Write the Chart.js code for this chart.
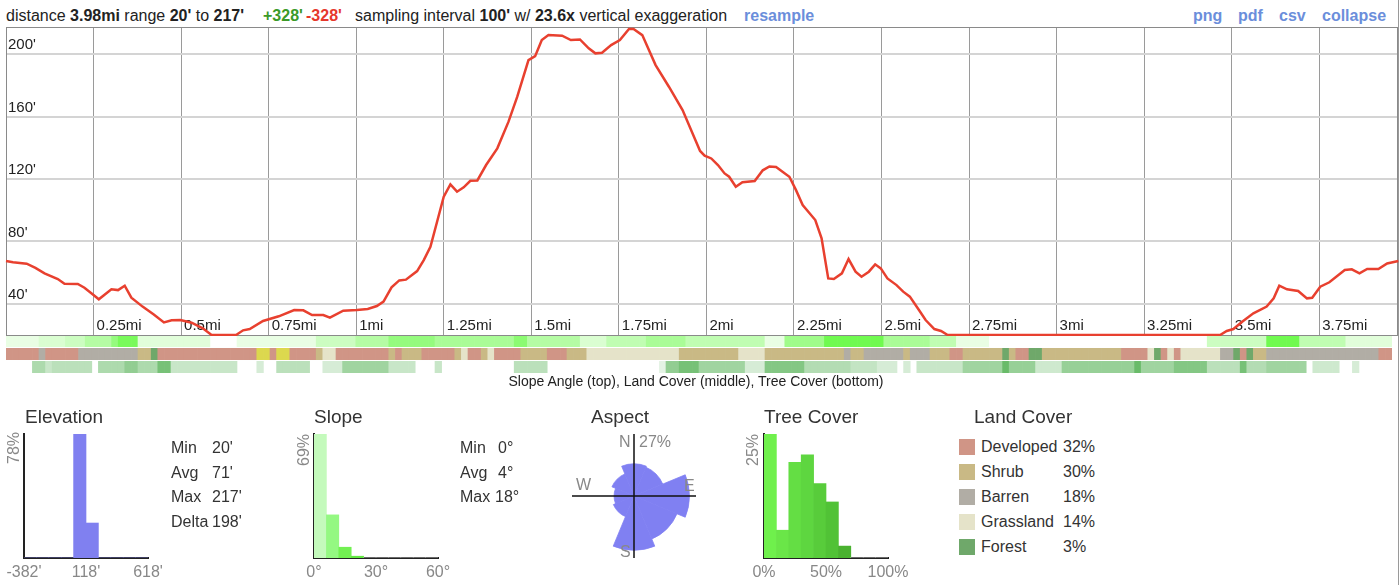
<!DOCTYPE html>
<html>
<head>
<meta charset="utf-8">
<script src="https://cdn.jsdelivr.net/npm/chart.js@4.4.1/dist/chart.umd.min.js"></script>
<style>
  body{margin:0;width:1400px;height:585px;overflow:hidden;background:#fff;position:relative;
       font-family:"Liberation Sans",Arial,Helvetica,sans-serif;color:#333}
  .abs{position:absolute;white-space:nowrap;line-height:18px}
  .hdr{font-size:16px;top:7px;color:#222}
  .link{color:#6b8edb;font-weight:bold}
  .title{font-size:19px;line-height:22px;color:#333}
  .stat{font-size:16px;color:#333}
  .axl{font-size:16px;color:#888;transform:translateX(-50%)}
  .rot{font-size:16px;color:#888;transform:translate(-50%,-50%) rotate(-90deg)}
  .sw{position:absolute;width:16px;height:16px}
  canvas{position:absolute}
</style>
</head>
<body>
<div id="root"></div>
<script>
// ---- elevation profile ----
const distMi = [0,0.020,0.059,0.084,0.110,0.148,0.167,0.205,0.224,0.250,0.265,0.301,0.320,0.339,0.358,0.390,0.422,0.451,0.473,0.498,
  0.530,0.562,0.587,0.657,0.677,0.696,0.734,0.779,0.823,0.849,0.874,0.906,0.925,0.963,1.002,1.033,1.059,1.078,1.101,1.123,
  1.142,1.174,1.193,1.212,1.231,1.250,1.269,1.288,1.307,1.326,1.346,1.371,1.403,1.435,1.460,1.492,1.511,1.530,1.549,1.588,
  1.613,1.639,1.664,1.683,1.702,1.728,1.753,1.779,1.792,1.817,1.855,1.893,1.932,1.982,1.995,2.014,2.033,2.052,2.065,2.084,
  2.103,2.138,2.161,2.180,2.199,2.237,2.256,2.275,2.311,2.329,2.348,2.364,2.387,2.406,2.426,2.443,2.464,2.482,2.498,2.517,
  2.543,2.562,2.581,2.607,2.626,2.651,2.670,2.689,3.467,3.486,3.505,3.530,3.562,3.600,3.620,3.636,3.658,3.690,3.715,3.730,
  3.753,3.779,3.823,3.843,3.865,3.887,3.919,3.944,3.976];
const elevFt = [67.4,66.6,65.7,63,59.5,55.9,52.9,52.7,50.3,45.6,42.9,49.3,48.8,51.6,43.9,38.2,33.2,28.1,29.4,29.6,
  27.9,24.3,20,20,23,23.8,29,32,36,35.8,32.8,32.8,31.1,35.6,36,36.7,38.6,41.4,50.6,55,
  55.5,61,68,76.6,92.6,108.7,116.6,111.9,114.7,118.9,119.1,129,139.7,156.8,172.8,196.3,198.8,209.1,212.3,211.9,
  209.1,209.5,203.8,200.6,201,205.9,209.1,216.2,216.2,212.3,193.1,179.2,164.2,138,135,133.2,129,123.6,121.5,115.1,
  117.9,118.7,125.6,128.1,127.7,121.5,112.9,103.3,93.7,82,56.3,55.9,59.5,68.7,60.6,57.4,60.6,65.3,62.7,56.3,
  52,47.8,44.6,36,29.6,23.8,22.6,20,20,22.6,23.8,28.5,33.9,38.2,43.5,51.6,49.3,48.2,43.5,43.9,
  51,53.8,61.7,62.1,59.5,62.3,62.3,65.9,67.4];
const xTicks = [0.25,0.5,0.75,1,1.25,1.5,1.75,2,2.25,2.5,2.75,3,3.25,3.5,3.75];
const xTickLabels = ['0.25mi','0.5mi','0.75mi','1mi','1.25mi','1.5mi','1.75mi','2mi','2.25mi','2.5mi','2.75mi','3mi','3.25mi','3.5mi','3.75mi'];
const yTicks = [40,80,120,160,200];
const yTickLabels = ["40'","80'","120'","160'","200'"];
const DIST_MAX = 3.975, ELEV_MIN = 20, ELEV_MAX = 217.5;

// ---- strips: runs of [cells, value], 210 samples of 100' ----
const slopeRuns = [[5,1],[4,2],[3,3],[4,5],[1,8],[3,11],[11,1.5],[4,0],[12,1],[6,3],[5,5],[7,8],[5,6],[7,6],[2,9],[8,5],
  [4,2],[6,4],[6,6],[12,4],[3,1],[6,7],[9,14],[7,6],[4,4],[5,1],[33,0],[9,3],[5,12],[7,4],[7,1.5]];
const landRuns = [[5,'D'],[1,'B'],[5,'D'],[9,'B'],[2,'S'],[1,'F'],[15,'D'],[2,'C'],[1,'D'],[2,'C'],[4,'D'],[1,'S'],[2,'G'],
  [8,'D'],[1,'S'],[1,'D'],[3,'S'],[5,'D'],[1,'S'],[1,'G'],[2,'D'],[1,'S'],[1,'G'],[4,'D'],[4,'S'],[3,'D'],[3,'S'],[14,'G'],
  [9,'S'],[4,'G'],[12,'S'],[1,'B'],[2,'S'],[6,'B'],[1,'S'],[3,'B'],[3,'S'],[2,'D'],[6,'S'],[1,'F'],[1,'S'],[2,'D'],[2,'F'],
  [12,'S'],[4,'D'],[1,'G'],[1,'F'],[1,'D'],[1,'G'],[1,'D'],[6,'G'],[2,'B'],[1,'F'],[1,'D'],[1,'F'],[2,'S'],[17,'B'],[2,'D']];
const treeRuns = [[4,0],[2,30],[1,20],[6,25],[1,0],[4,30],[2,40],[3,30],[2,50],[10,20],[3,0],[1,15],[2,0],[5,25],[2,0],
  [3,15],[7,35],[4,20],[3,0],[1,20],[4,0],[7,0],[5,25],[17,0],[1,10],[2,40],[3,50],[7,35],[3,15],[6,45],[7,28],[4,22],
  [3,15],[1,0],[1,15],[1,0],[7,20],[6,35],[1,55],[4,38],[4,18],[11,38],[1,55],[5,35],[5,45],[5,25],[1,50],[3,28],[6,35],
  [1,0],[4,18],[2,0],[1,15],[5,0]];
const landColors = {D:'#d09586',S:'#c9b985',B:'#b1ada5',G:'#e5e3c9',F:'#6fa86a',C:'#dcd84e'};

// ---- summary panels ----
const elevBins = [0,0,0,0,78,22,0,0,0,0];
const elevAxis = ["-382'","118'","618'"];
const elevStats = [['Min',"20'"],['Avg',"71'"],['Max',"217'"],['Delta',"198'"]];
const slopeBins = [69,24,6,1,0,0,0,0,0,0];
const slopeBinColors = ['#c4fabc','#94f882','#72f052','#62e842','#fff','#fff','#fff','#fff','#fff','#fff'];
const slopeAxis = ['0°','30°','60°'];
const slopeStats = [['Min','0°'],['Avg','4°'],['Max','18°']];
const aspectDirs = ['N','NE','E','SE','S','SW','W','NW'];
const aspectPct = [7.3,6.8,21.6,15.2,20.7,3.5,2.8,4.0];
const aspectMax = 27;
const treeBins = [25,5.6,19.3,20.8,15,11.3,2.4,0,0,0];
const treeBinColors = ['#6ff04c','#6ae648','#64de44','#5ed640','#58cc3b','#51c236','#4ab230','#fff','#fff','#fff'];
const treeAxis = ['0%','50%','100%'];
const landNames = ['Developed','Shrub','Barren','Grassland','Forest'];
const landKeys = ['D','S','B','G','F'];
const landPct = ['32%','30%','18%','14%','3%'];

function expand(runs){ const out=[]; runs.forEach(([n,v])=>{ for(let i=0;i<n;i++) out.push(v); }); return out; }
function mix(a,b,t){ t=Math.max(0,Math.min(1,t)); return 'rgb('+a.map((c,i)=>Math.round(c+(b[i]-c)*t)).join(',')+')'; }
function slopeColor(v){ return mix([255,255,255],[112,250,80],Math.pow(v/12,0.75)); }
function treeColor(v){ return v<=0 ? 'rgba(0,0,0,0)' : mix([255,255,255],[64,168,64],v/70); }

function el(html){ document.getElementById('root').insertAdjacentHTML('beforeend', html); }
function canvas(id,l,t,w,h){ el(`<canvas id="${id}" width="${w}" height="${h}" style="left:${l}px;top:${t}px;width:${w}px;height:${h}px"></canvas>`); return document.getElementById(id); }

// header
el(`<div class="abs hdr" style="left:6px">distance <b>3.98mi</b> range <b>20'</b> to <b>217'</b></div>
<div class="abs hdr" style="left:263px;color:#3b9a28;font-weight:bold">+328'</div>
<div class="abs hdr" style="left:306px;color:#e6372b;font-weight:bold">-328'</div>
<div class="abs hdr" style="left:355px">sampling interval <b>100'</b> w/ <b>23.6x</b> vertical exaggeration</div>
<div class="abs hdr link" style="left:744px">resample</div>
<div class="abs hdr link" style="left:1193px">png</div>
<div class="abs hdr link" style="left:1238px">pdf</div>
<div class="abs hdr link" style="left:1279px">csv</div>
<div class="abs hdr link" style="left:1322px">collapse</div>
<div style="position:absolute;left:1398px;top:0;width:1px;height:585px;background:#9a9a9a"></div>`);

const base = {responsive:false, animation:false, events:[], plugins:{legend:{display:false}, tooltip:{enabled:false}}};

// profile labels + frame, drawn under the line
const profileDeco = {
  id:'profileDeco',
  beforeDatasetsDraw(chart){
    const {ctx, chartArea:a, scales:{x,y}} = chart;
    ctx.save();
    ctx.strokeStyle='#8a8a8a'; ctx.lineWidth=1;
    ctx.strokeRect(a.left+0.5, a.top+0.5, a.right-a.left-1, a.bottom-a.top);
    ctx.fillStyle='#222'; ctx.font='15px "Liberation Sans", Arial, sans-serif'; ctx.textBaseline='middle'; ctx.textAlign='left';
    yTicks.forEach((v,i)=>ctx.fillText(yTickLabels[i], a.left+2, y.getPixelForValue(v)-9));
    xTicks.forEach((v,i)=>ctx.fillText(xTickLabels[i], x.getPixelForValue(v)+3, a.bottom-9));
    ctx.restore();
  }
};

new Chart(canvas('profile',0,20,1400,320), {
  type:'line',
  data:{datasets:[{data:distMi.map((d,i)=>({x:d,y:elevFt[i]})), borderColor:'#e8402f', borderWidth:2.5,
    pointRadius:0, tension:0, clip:4}]},
  options:{...base, layout:{padding:{left:6,right:2,top:7,bottom:5}},
    scales:{
      x:{type:'linear', min:0, max:DIST_MAX, afterBuildTicks:s=>{s.ticks=xTicks.map(v=>({value:v}));},
         ticks:{display:false}, grid:{color:'#9a9a9a', lineWidth:1, drawTicks:false}, border:{display:false}},
      y:{type:'linear', min:ELEV_MIN, max:ELEV_MAX, afterBuildTicks:s=>{s.ticks=yTicks.map(v=>({value:v}));},
         ticks:{display:false}, grid:{color:'#d4d4d4', lineWidth:2, drawTicks:false}, border:{display:false}}
    }},
  plugins:[profileDeco]
});

// strips
const slopeCells = expand(slopeRuns), landCells = expand(landRuns), treeCells = expand(treeRuns);
function strip(id, top, h, cells, colorFn){
  new Chart(canvas(id,6,top,1386,h), {
    type:'bar',
    data:{labels:cells.map((_,i)=>i), datasets:[{data:cells.map(()=>1), backgroundColor:cells.map(colorFn),
      borderWidth:0, categoryPercentage:1, barPercentage:1}]},
    options:{...base, layout:{padding:0}, scales:{x:{display:false}, y:{display:false, min:0, max:1}}}
  });
}
strip('slopeStrip',336,11,slopeCells,slopeColor);
strip('landStrip',348,12,landCells,k=>landColors[k]);
strip('treeStrip',361,12,treeCells,treeColor);
el(`<div class="abs" style="left:696px;top:372px;font-size:14px;color:#222;transform:translateX(-50%)">Slope Angle (top), Land Cover (middle), Tree Cover (bottom)</div>`);

// histograms
function hist(id, left, bins, colors){
  new Chart(canvas(id,left,424,144,144), {
    type:'bar',
    data:{labels:bins.map((_,i)=>i), datasets:[{data:bins, backgroundColor:colors, borderWidth:0, categoryPercentage:1, barPercentage:1}]},
    options:{...base, layout:{padding:10}, scales:{
      x:{ticks:{display:false}, grid:{display:false, drawTicks:false}, border:{color:'#222', width:2}},
      y:{min:0, max:Math.max(...bins), ticks:{display:false}, grid:{display:false, drawTicks:false}, border:{color:'#222', width:2}}
    }}
  });
}
function axisLabels(left, labels){
  labels.forEach((t,i)=>el(`<div class="abs axl" style="left:${left+i*62}px;top:563px">${t}</div>`));
}
hist('elevHist',14,elevBins,'#8080f0');
hist('slopeHist',304,slopeBins,slopeBinColors);
hist('treeHist',754,treeBins,treeBinColors);
axisLabels(24,elevAxis); axisLabels(314,slopeAxis); axisLabels(764,treeAxis);
el(`<div class="abs rot" style="left:14px;top:448px">${elevBins[4]}%</div>
<div class="abs rot" style="left:304px;top:450px">${slopeBins[0]}%</div>
<div class="abs rot" style="left:753px;top:450px">${treeBins[0]}%</div>`);

el(`<div class="abs title" style="left:25px;top:406px">Elevation</div>
<div class="abs title" style="left:314px;top:406px">Slope</div>
<div class="abs title" style="left:591px;top:406px">Aspect</div>
<div class="abs title" style="left:764px;top:406px">Tree Cover</div>
<div class="abs title" style="left:974px;top:406px">Land Cover</div>`);
elevStats.forEach(([k,v],i)=>el(`<div class="abs stat" style="left:171px;top:${439+i*24.7}px">${k}</div><div class="abs stat" style="left:212px;top:${439+i*24.7}px">${v}</div>`));
slopeStats.forEach(([k,v],i)=>el(`<div class="abs stat" style="left:460px;top:${439+i*24.7}px">${k}</div><div class="abs stat" style="left:${v.length>2?495:498}px;top:${439+i*24.7}px">${v}</div>`));

// aspect rose (radius ~ sqrt of share, so area follows the percentage)
const aspectCross = {
  id:'aspectCross',
  afterDatasetsDraw(chart){
    const s = chart.scales.r, ctx = chart.ctx, r = s.drawingArea;
    ctx.save(); ctx.strokeStyle='#111'; ctx.lineWidth=1.5; ctx.beginPath();
    ctx.moveTo(s.xCenter-r, s.yCenter); ctx.lineTo(s.xCenter+r, s.yCenter);
    ctx.moveTo(s.xCenter, s.yCenter-r); ctx.lineTo(s.xCenter, s.yCenter+r);
    ctx.stroke(); ctx.restore();
  }
};
new Chart(canvas('aspect',569,431,130,130), {
  type:'polarArea',
  data:{labels:aspectDirs, datasets:[{data:aspectPct.map(Math.sqrt), backgroundColor:'#8080f2', borderColor:'#8080f2', borderWidth:0.8}]},
  options:{...base, layout:{padding:3},
    scales:{r:{startAngle:-22.5, min:0, max:Math.sqrt(aspectMax), ticks:{display:false}, grid:{display:false}, angleLines:{display:false}, pointLabels:{display:false}}}},
  plugins:[aspectCross]
});
el(`<div class="abs stat" style="left:619px;top:433px;color:#888">N</div>
<div class="abs stat" style="left:639px;top:433px;color:#888">${aspectMax}%</div>
<div class="abs stat" style="left:576px;top:476px;color:#888">W</div>
<div class="abs stat" style="left:684px;top:477px;color:#888">E</div>
<div class="abs stat" style="left:620px;top:543px;color:#888">S</div>`);

// land cover legend
landNames.forEach((n,i)=>{
  const cy = 446.7 + i*25;
  el(`<div class="sw" style="left:959px;top:${cy-8}px;background:${landColors[landKeys[i]]}"></div>
  <div class="abs stat" style="left:981px;top:${cy-9}px">${n}</div>
  <div class="abs stat" style="left:1063px;top:${cy-9}px">${landPct[i]}</div>`);
});
</script>
</body>
</html>
